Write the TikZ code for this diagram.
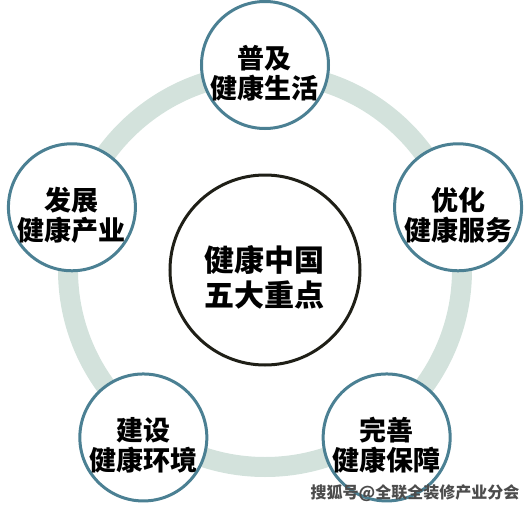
\documentclass[tikz,border=0pt]{standalone}
\usepackage{fontspec}
\setmainfont{Noto Sans CJK SC}
\usetikzlibrary{positioning}
\definecolor{ringgreen}{HTML}{D3E2DC}
\definecolor{rimblue}{HTML}{4B8093}
\definecolor{coredark}{HTML}{1F1F17}

\begin{document}
\begin{tikzpicture}[
        x=1pt, y=1pt,
        core/.style={
            circle,
            draw=coredark,
            line width=3pt,
            fill=white,
            minimum size=190pt,
            inner sep=0pt,
            align=center,
            text height=73pt,
            text depth=0pt,
            font=\fontsize{30}{35}\selectfont\bfseries
        },
        goal/.style={
            circle,
            draw=rimblue,
            line width=3pt,
            fill=white,
            minimum size=127pt,
            inner sep=0pt,
            align=center,
            text height=66pt,
            text depth=0pt,
            font=\fontsize{27}{30}\selectfont\bfseries
        },
        ring/.style={draw=ringgreen, line width=20pt},
        watermark/.style={text=black!70, font=\fontsize{16}{16}\selectfont\bfseries}
    ]

    \useasboundingbox (-265,-242) rectangle (265,270);

    \draw [ring] (0,0) circle (197pt);

    \node (core) [core] at (0,0) {健康中国\\五大重点};

    \node (life) [goal] at (90:205pt) {普及\\健康生活};
    \node (service) [goal] at (18:203pt) {优化\\健康服务};
    \node (security) [goal] at (-54:207pt) {完善\\健康保障};
    \node (environ) [goal] at (-126:207pt) {建设\\健康环境};
    \node (industry) [goal] at (162:203pt) {发展\\健康产业};

    \node (sohu) [watermark] at (150,-223) {搜狐号@全联全装修产业分会};

\end{tikzpicture}
\end{document}
